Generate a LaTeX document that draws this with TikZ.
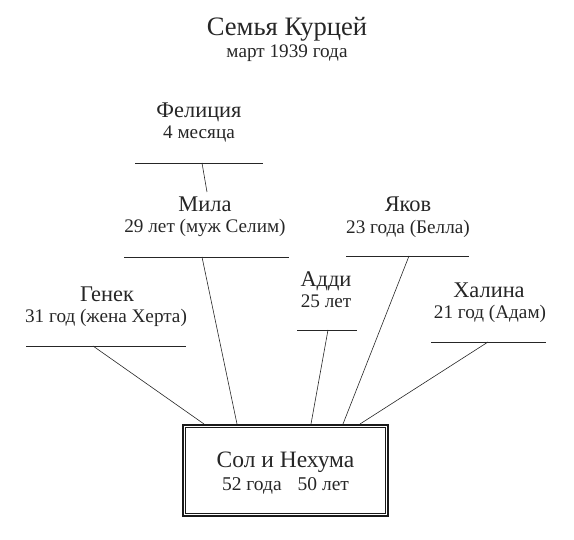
\documentclass[tikz,border=0pt]{standalone}
\usepackage{fontspec}
\setmainfont{Liberation Serif}
\newcommand{\fsz}[1]{\fontsize{#1}{#1}\selectfont}
\begin{document}
\begin{tikzpicture}[x=1pt,y=-1pt,
  txt/.style={inner sep=0pt, anchor=base, text=black!85},
  ttl/.style={txt, font=\fsz{26.6}},
  nm/.style={txt, font=\fsz{22.4}},
  dt/.style={txt, font=\fsz{19.2}},
  bar/.style={line width=0.9pt, black!85},
  link/.style={line width=0.6pt, black!85},
  famouter/.style={draw=black!90, line width=2.6pt, minimum width=205pt, minimum height=91pt, inner sep=0pt}
]
\useasboundingbox (0,0) rectangle (574,540);

% title
\node[ttl] (title) at (287,36) {Семья Курцей};
\node[dt] (date) at (287,58) {март 1939 года};

% Felicja
\node[nm] (fel) at (199,118) {Фелиция};
\node[dt] (feld) at (199,139) {4 месяца};
\coordinate (felL) at (135,163); \coordinate (felR) at (263,163);
\draw[bar] (felL) -- (felR);
\coordinate (felC) at (202,163);
\coordinate (felE) at (207,192);

% Mila
\node[nm] (mila) at (205,212) {Мила};
\node[dt] (milad) at (205,233) {29 лет (муж Селим)};
\coordinate (milaL) at (124,257); \coordinate (milaR) at (289,257);
\draw[bar] (milaL) -- (milaR);
\coordinate (milaC) at (202,257);

% Genek
\node[nm] (gen) at (107,302) {Генек};
\node[dt] (gend) at (106,323) {31 год (жена Херта)};
\coordinate (genL) at (26,346); \coordinate (genR) at (186,346);
\draw[bar] (genL) -- (genR);
\coordinate (genC) at (93,346);

% Yakov
\node[nm] (yak) at (408,212) {Яков};
\node[dt] (yakd) at (408,234) {23 года (Белла)};
\coordinate (yakL) at (346,256); \coordinate (yakR) at (469,256);
\draw[bar] (yakL) -- (yakR);
\coordinate (yakC) at (409,256);

% Addi
\node[nm] (add) at (326,287) {Адди};
\node[dt] (addd) at (326,308) {25 лет};
\coordinate (addL) at (297,330); \coordinate (addR) at (357,330);
\draw[bar] (addL) -- (addR);
\coordinate (addC) at (328,330);

% Halina
\node[nm] (hal) at (489,298) {Халина};
\node[dt] (hald) at (490,319) {21 год (Адам)};
\coordinate (halL) at (431,342); \coordinate (halR) at (546,342);
\draw[bar] (halL) -- (halR);
\coordinate (halC) at (488,342);

% parents box
\node[famouter] (box) at (285.5,470.5) {};
\draw[line width=0.8pt, black!90] ([shift={(3.6,3.6)}]box.north west) rectangle ([shift={(-3.6,-3.6)}]box.south east);
\node[txt, font=\fsz{23.5}] (par) at (285.5,468) {Сол и Нехума};
\node[txt, font=\fsz{19.5}] (pard) at (285.5,491) {52 года\hspace{16pt}50 лет};

\coordinate (bGen) at (204,424);
\coordinate (bMila) at (237,424);
\coordinate (bAdd) at (311,424);
\coordinate (bYak) at (343,424);
\coordinate (bHal) at (360,424);

% connectors
\draw[link] (felC) -- (felE);
\draw[link] (genC) -- (bGen);
\draw[link] (milaC) -- (bMila);
\draw[link] (addC) -- (bAdd);
\draw[link] (yakC) -- (bYak);
\draw[link] (halC) -- (bHal);
\end{tikzpicture}
\end{document}
